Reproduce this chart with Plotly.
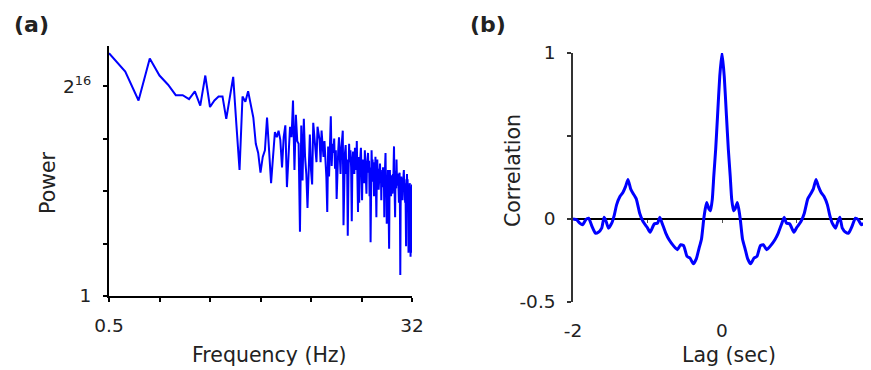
import math
import plotly.graph_objects as go

# ---------------- data ----------------
# (a) power spectrum: frequency bins 0.5 .. 32 Hz, step 0.125 Hz; power read as log2 exponent
freq_start = 0.5
freq_step = 0.125
power_log2 = [
    18.5, 17.1, 14.9, 18.1, 16.8, 16.1, 15.3, 15.3, 15.0, 15.6,
    14.5, 16.8, 14.4, 14.9, 15.2, 15.2, 13.5, 15.1, 16.7, 13.0,
    9.6, 15.2, 14.8, 15.6, 14.6, 13.6, 11.6, 10.9, 9.4, 10.6,
    11.1, 13.6, 11.1, 8.6, 10.6, 12.5, 12.1, 12.6, 11.9, 9.8,
    12.1, 13.0, 8.3, 11.0, 12.9, 12.1, 14.9, 9.6, 13.8, 11.8,
    11.6, 4.9, 13.0, 8.8, 13.5, 10.6, 9.3, 6.7, 10.6, 12.3,
    9.6, 8.5, 13.2, 12.0, 11.6, 10.2, 12.9, 12.2, 11.9, 10.2,
    12.6, 11.5, 10.6, 11.8, 10.8, 9.1, 6.4, 11.4, 9.1, 10.8,
    13.7, 9.9, 11.6, 10.9, 12.0, 9.7, 11.1, 7.4, 10.5, 11.1,
    12.1, 10.6, 9.3, 11.2, 12.3, 12.6, 5.4, 9.8, 10.9, 11.5,
    9.3, 10.4, 4.6, 9.0, 11.6, 10.2, 11.1, 9.8, 5.7, 10.1,
    11.0, 10.3, 9.3, 11.3, 10.5, 9.6, 11.8, 10.0, 6.4, 10.6,
    7.1, 9.9, 10.8, 11.3, 9.5, 7.3, 10.4, 9.2, 10.1, 8.6,
    11.1, 10.2, 9.0, 7.8, 10.0, 10.7, 10.9, 9.4, 10.3, 7.6,
    9.8, 4.1, 8.9, 11.1, 9.6, 10.4, 8.7, 9.9, 7.6, 10.2,
    8.8, 10.6, 9.3, 6.0, 9.1, 10.4, 8.5, 9.7, 8.1, 9.5,
    8.8, 10.1, 9.0, 9.6, 7.3, 9.4, 8.6, 8.3, 9.8, 8.9,
    9.3, 6.0, 9.0, 9.7, 10.9, 8.4, 9.2, 5.5, 8.7, 9.4,
    9.6, 8.2, 7.0, 3.6, 7.9, 9.6, 8.4, 9.1, 7.6, 8.3,
    9.2, 8.0, 7.8, 9.3, 8.5, 10.2, 11.4, 9.0, 8.1, 6.0,
    8.8, 9.5, 8.2, 10.4, 9.1, 8.4, 9.3, 8.6, 9.2, 8.0,
    7.1, 8.9, 9.4, 6.5, 1.6, 6.8, 8.5, 9.1, 8.3, 9.0,
    7.9, 7.3, 8.8, 8.1, 9.3, 9.6, 8.2, 8.9, 7.7, 7.1,
    8.6, 6.2, 3.8, 7.4, 8.5, 9.3, 7.8, 8.9, 6.9, 8.4,
    3.3, 7.6, 8.1, 5.2, 8.6, 7.2, 8.0, 3.0, 6.5, 7.3,
    3.3, 8.2, 8.5,
]
freq = [freq_start + freq_step * i for i in range(len(power_log2))]
power = [2.0 ** e for e in power_log2]

freq_tickvals = [0.5, 32]
freq_ticktext = ["0.5", "32"]
freq_minor_ticks = [1, 2, 4, 8, 16]
power_tickvals = [1, 65536]
power_ticktext = ["1", "2<sup>16</sup>"]
power_minor_ticks = [16, 256, 4096]

# (b) autocorrelation (symmetric): positive lags
lag_pos = [0.0, 0.03, 0.06, 0.085, 0.11, 0.13, 0.155, 0.175, 0.205, 0.225,
           0.245, 0.275, 0.31, 0.345, 0.385, 0.43, 0.47, 0.515, 0.555, 0.60,
           0.645, 0.71, 0.755, 0.80, 0.835, 0.865, 0.91, 0.965, 1.005, 1.06,
           1.105, 1.15, 1.195, 1.225, 1.262, 1.295, 1.33, 1.37, 1.415, 1.445,
           1.48, 1.525, 1.555, 1.583, 1.615, 1.66, 1.70, 1.745, 1.79, 1.83,
           1.87, 1.91, 1.95, 2.0]
corr_pos = [1.0, 0.86, 0.62, 0.42, 0.26, 0.12, 0.05, 0.06, 0.10, 0.06,
            0.0, -0.12, -0.18, -0.24, -0.27, -0.235, -0.225, -0.16, -0.155, -0.185,
            -0.165, -0.125, -0.085, -0.03, 0.01, -0.025, -0.03, -0.08, -0.05, -0.015,
            0.035, 0.12, 0.155, 0.18, 0.238, 0.195, 0.16, 0.135, 0.085, 0.025,
            -0.025, -0.055, -0.015, 0.01, -0.055, -0.08, -0.085, -0.045, 0.005, -0.005,
            -0.035, -0.025, -0.005, 0.0]
lag = [-v for v in lag_pos[:0:-1]] + lag_pos
corr = corr_pos[:0:-1] + corr_pos

lag_tickvals = [-2, 0, 2]
lag_ticktext = ["-2", "0", "2"]
lag_zero_ticks = [-1, 0, 1]
corr_tickvals = [-0.5, 0, 1]
corr_ticktext = ["-0.5", "0", "1"]
corr_minor_ticks = [0.5]

# ---------------- figure ----------------
# the page adds an 8px body margin, so the figure is 8px smaller and
# positions (measured in window pixels) are shifted by 8
OFF = 8
W, H = 871 - OFF, 370 - OFF


def px(x):
    return (x - OFF) / W


def py(y):
    return 1 - (y - OFF) / H


FONT = "DejaVu Sans"
TXT = "#222222"
TICK_FS = 18.5
TITLE_FS = 20.5

fig = go.Figure()
fig.add_trace(go.Scatter(x=freq, y=power, mode="lines",
                         line=dict(color="#0000ff", width=2),
                         xaxis="x", yaxis="y", showlegend=False))
fig.add_trace(go.Scatter(x=lag, y=corr, mode="lines",
                         line=dict(color="#0000ff", width=3, shape="spline", smoothing=0.45),
                         xaxis="x2", yaxis="y2", showlegend=False))
# empty trace so the tick-only axis at corr = 0 is drawn
fig.add_trace(go.Scatter(x=[], y=[], xaxis="x3", yaxis="y2", showlegend=False))

common = dict(showgrid=False, automargin=False, tickfont=dict(size=TICK_FS),
              ticklabelstandoff=8)

fig.update_layout(
    width=W, height=H, autosize=False,
    margin=dict(l=0, r=0, t=0, b=0, pad=0),
    paper_bgcolor="white", plot_bgcolor="white",
    font=dict(family=FONT, color=TXT, size=TICK_FS),
    xaxis=dict(domain=[px(109), px(412)], type="log",
               range=[math.log10(0.5), math.log10(32)],
               tickmode="array", tickvals=freq_tickvals, ticktext=freq_ticktext,
               minor=dict(tickmode="array", tickvals=freq_minor_ticks, ticks="outside",
                          ticklen=4, tickwidth=1.5, tickcolor="black", showgrid=False),
               showline=True, linecolor="black", linewidth=2,
               ticks="outside", ticklen=4, tickwidth=1.5, tickcolor="black",
               zeroline=False, anchor="y", **common),
    yaxis=dict(domain=[py(296), py(46)], type="log",
               range=[0, 19.05 * math.log10(2)],
               tickmode="array", tickvals=power_tickvals, ticktext=power_ticktext,
               minor=dict(tickmode="array", tickvals=power_minor_ticks, ticks="outside",
                          ticklen=4, tickwidth=1.5, tickcolor="black", showgrid=False),
               showline=True, linecolor="black", linewidth=2,
               ticks="outside", ticklen=4, tickwidth=1.5, tickcolor="black",
               zeroline=False, anchor="x", **common),
    xaxis2=dict(domain=[px(573), 1.0], range=[-2, 2],
                tickmode="array", tickvals=lag_tickvals, ticktext=lag_ticktext,
                showline=False, ticks="outside", ticklen=4,
                tickcolor="rgba(0,0,0,0)", ticklabeloverflow="allow",
                zeroline=False, anchor="y2", **common),
    yaxis2=dict(domain=[py(302), py(53)], range=[-0.5, 1],
                tickmode="array", tickvals=corr_tickvals, ticktext=corr_ticktext,
                minor=dict(tickmode="array", tickvals=corr_minor_ticks, ticks="outside",
                           ticklen=4, tickwidth=1.5, tickcolor="#333333", showgrid=False),
                showline=True, linecolor="#333333", linewidth=1.5,
                ticks="outside", ticklen=4, tickwidth=1.5, tickcolor="#333333",
                zeroline=True, zerolinecolor="black", zerolinewidth=2,
                anchor="x2", **common),
    xaxis3=dict(domain=[px(573), 1.0], range=[-2, 2], overlaying="x2",
                anchor="free", position=py(219),
                tickmode="array", tickvals=lag_zero_ticks, showticklabels=False,
                ticks="outside", ticklen=3, tickwidth=1, tickcolor="#555555",
                showline=False, showgrid=False, zeroline=False, automargin=False),
)

annots = [
    dict(text="<b>(a)</b>", x=31, y=24, size=22, angle=0),
    dict(text="<b>(b)</b>", x=488, y=24, size=22, angle=0),
    dict(text="Power", x=48, y=183, size=TITLE_FS, angle=-90),
    dict(text="Frequency (Hz)", x=269, y=355, size=TITLE_FS, angle=0),
    dict(text="Correlation", x=513, y=171, size=TITLE_FS, angle=-90),
    dict(text="Lag (sec)", x=729, y=355, size=TITLE_FS, angle=0),
]
for a in annots:
    fig.add_annotation(text=a["text"], x=px(a["x"]), y=py(a["y"]), xref="paper", yref="paper",
                       xanchor="center", yanchor="middle", showarrow=False,
                       textangle=a["angle"], font=dict(family=FONT, size=a["size"], color=TXT))

fig.write_html("out.html")
